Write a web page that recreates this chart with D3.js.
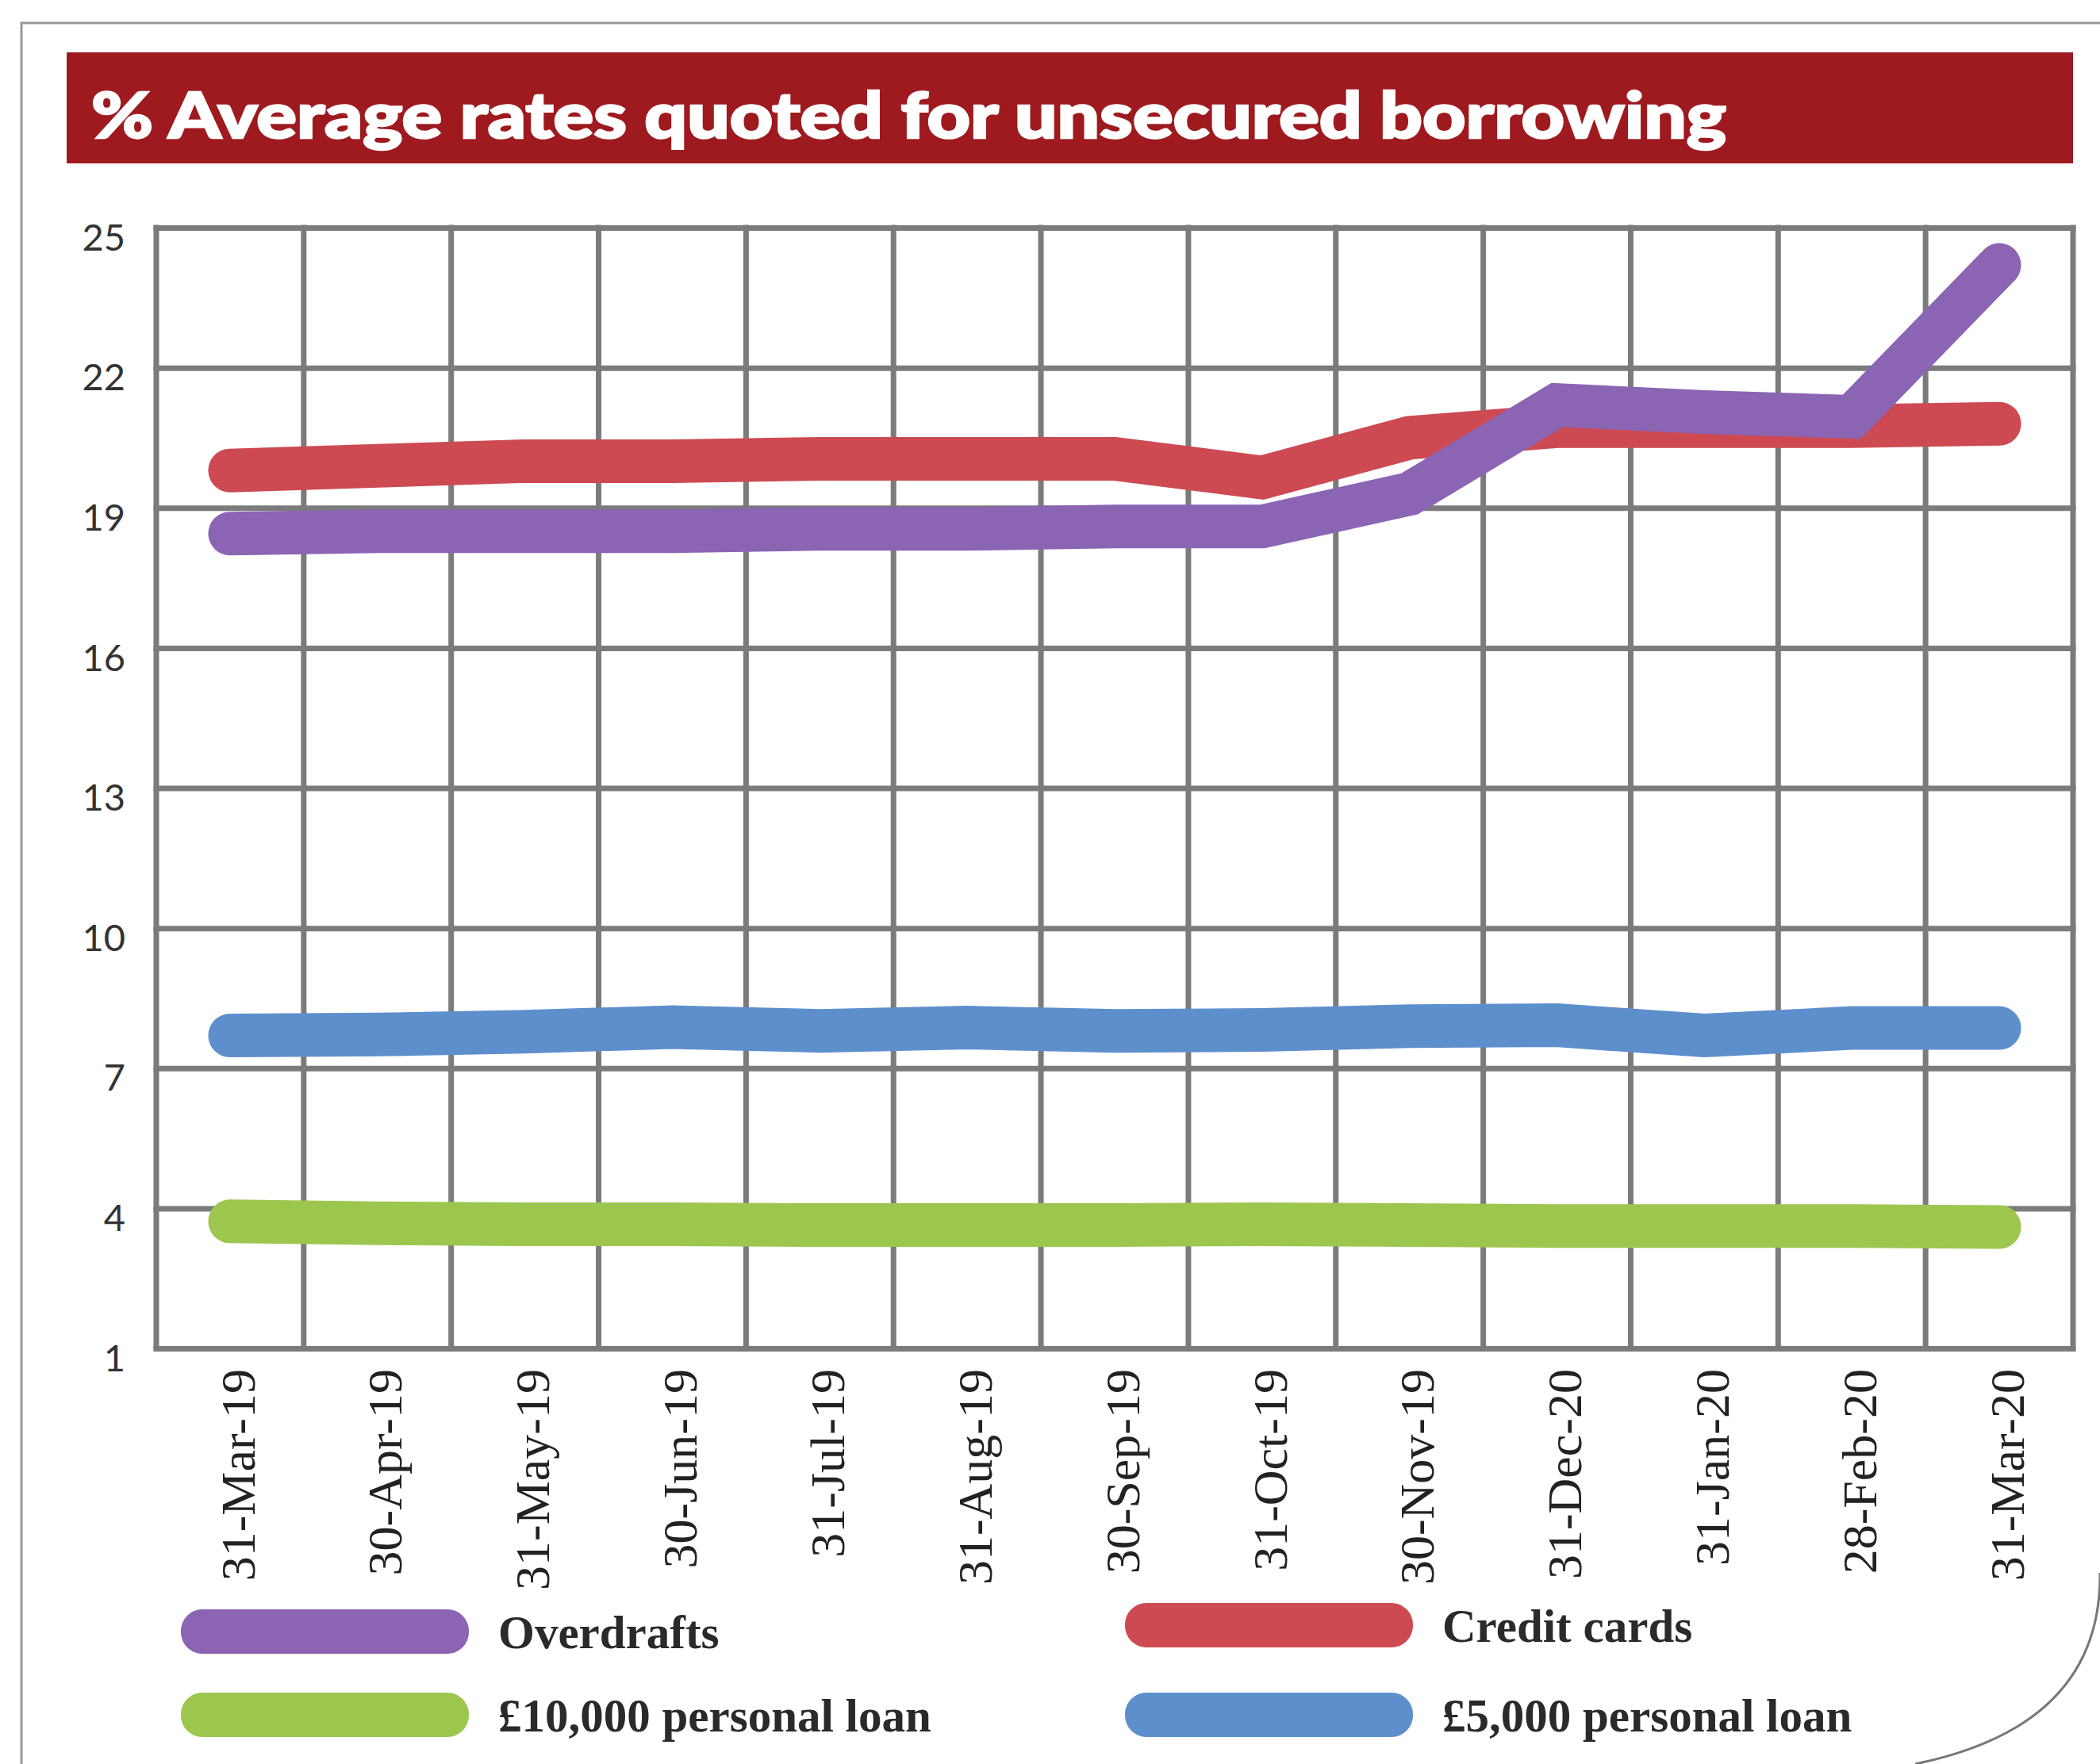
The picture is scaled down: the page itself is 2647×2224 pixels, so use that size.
<!DOCTYPE html>
<html lang="en">
<head>
  <meta charset="UTF-8">
  <title>% Average rates quoted for unsecured borrowing</title>
  <script src="https://d3js.org/d3.v7.min.js"></script>
  <style>
    body { margin: 0; background: #fff; }
    svg { display: block; }
    .title { font-family: Lato, "Open Sans", sans-serif; font-weight: 900; font-size: 80px; fill: #fff; }
    .y-axis text { font-family: Lato, sans-serif; font-size: 47px; fill: #333; }
    .y-axis line, .grid-v line { stroke: #7b7b7b; stroke-width: 7; stroke-linecap: square; }
    .x-label { font-family: "Liberation Serif", serif; font-size: 62px; fill: #222; }
    .legend text { font-family: "Liberation Serif", serif; font-weight: bold; font-size: 59px; fill: #2a2a2a; }
    .series { fill: none; stroke-width: 55; stroke-linecap: round; }
  </style>
</head>
<body>
<svg width="2647" height="2224"></svg>
<script>
  const dates = ["31-Mar-19", "30-Apr-19", "31-May-19", "30-Jun-19", "31-Jul-19", "31-Aug-19",
    "30-Sep-19", "31-Oct-19", "30-Nov-19", "31-Dec-20", "31-Jan-20", "28-Feb-20", "31-Mar-20"];
  const overdrafts = [18.45, 18.5, 18.5, 18.5, 18.55, 18.55, 18.6, 18.6, 19.3, 21.2, 21.05, 20.95, 24.2];
  const creditCards = [19.8, 19.9, 20.0, 20.0, 20.05, 20.05, 20.05, 19.65, 20.5, 20.75, 20.75, 20.75, 20.8];
  const loan5k = [7.7, 7.72, 7.78, 7.88, 7.8, 7.87, 7.8, 7.82, 7.9, 7.92, 7.7, 7.86, 7.86];
  const loan10k = [3.72, 3.68, 3.66, 3.66, 3.64, 3.64, 3.64, 3.66, 3.64, 3.62, 3.62, 3.62, 3.6];
  const yTicks = [1, 4, 7, 10, 13, 16, 19, 22, 25];
  const seriesNames = ["Overdrafts", "Credit cards", "£10,000 personal loan", "£5,000 personal loan"];

  const svg = d3.select("svg");
  const plotLeft = 197, plotRight = 2613, plotTop = 287, plotBottom = 1700;

  // page frame + curled corner
  svg.append("path")
    .attr("d", "M27,2224 L27,29 L2647,29")
    .attr("fill", "none").attr("stroke", "#999").attr("stroke-width", 3);
  svg.append("path")
    .attr("d", "M2647,1983 Q2649,2176 2414,2224")
    .attr("fill", "none").attr("stroke", "#777").attr("stroke-width", 3);

  // title banner
  svg.append("rect")
    .attr("x", 84).attr("y", 66).attr("width", 2529).attr("height", 140)
    .attr("fill", "#9e1a1f");
  svg.append("text")
    .attr("class", "title")
    .attr("x", 115).attr("y", 174)
    .attr("textLength", 2061).attr("lengthAdjust", "spacingAndGlyphs")
    .attr("stroke", "#fff").attr("stroke-width", 2.5)
    .text("% Average rates quoted for unsecured borrowing");

  const x = d3.scalePoint().domain(dates).range([plotLeft, plotRight]).padding(0.5);
  const y = d3.scaleLinear().domain([1, 25]).range([plotBottom, plotTop]);

  // horizontal grid + y labels
  svg.append("g")
    .attr("class", "y-axis")
    .attr("transform", `translate(${plotLeft},0)`)
    .call(d3.axisLeft(y).tickValues(yTicks).tickSize(-(plotRight - plotLeft)).tickPadding(39))
    .call(g => g.select(".domain").remove())
    .call(g => g.selectAll("text").attr("dy", "0.6em"));

  // vertical grid at band edges
  const edges = dates.map(d => x(d) - x.step() / 2).concat([x(dates[dates.length - 1]) + x.step() / 2]);
  svg.append("g")
    .attr("class", "grid-v")
    .selectAll("line")
    .data(edges)
    .join("line")
    .attr("x1", d => d).attr("x2", d => d)
    .attr("y1", y(25)).attr("y2", y(1));

  // x labels
  svg.append("g")
    .selectAll("text")
    .data(dates)
    .join("text")
    .attr("class", "x-label")
    .attr("transform", d => `translate(${x(d) + 9},1726) rotate(-90)`)
    .attr("dy", "0.35em")
    .attr("text-anchor", "end")
    .text(d => d);

  const colors = { "Overdrafts": "#8b64b4", "Credit cards": "#cd4a52",
    "£10,000 personal loan": "#9dc64f", "£5,000 personal loan": "#5e8fcd" };
  const series = [
    { name: seriesNames[2], values: loan10k },
    { name: seriesNames[3], values: loan5k },
    { name: seriesNames[1], values: creditCards },
    { name: seriesNames[0], values: overdrafts }
  ];

  const line = d3.line()
    .x((d, i) => x(dates[i]))
    .y(d => y(d));

  svg.append("g")
    .selectAll("path")
    .data(series)
    .join("path")
    .attr("class", "series")
    .attr("stroke", d => colors[d.name])
    .attr("d", d => line(d.values));

  // legend
  const legendPos = [
    { name: seriesNames[0], x: 228, y: 2029 },
    { name: seriesNames[1], x: 1418, y: 2021 },
    { name: seriesNames[2], x: 228, y: 2134 },
    { name: seriesNames[3], x: 1418, y: 2134 }
  ];
  const legend = svg.append("g")
    .attr("class", "legend")
    .selectAll("g")
    .data(legendPos)
    .join("g")
    .attr("transform", d => `translate(${d.x},${d.y})`);

  legend.append("rect")
    .attr("width", 363).attr("height", 56).attr("rx", 27)
    .attr("fill", d => colors[d.name]);

  legend.append("text")
    .attr("x", 400).attr("y", 49)
    .text(d => d.name);
</script>
</body>
</html>
